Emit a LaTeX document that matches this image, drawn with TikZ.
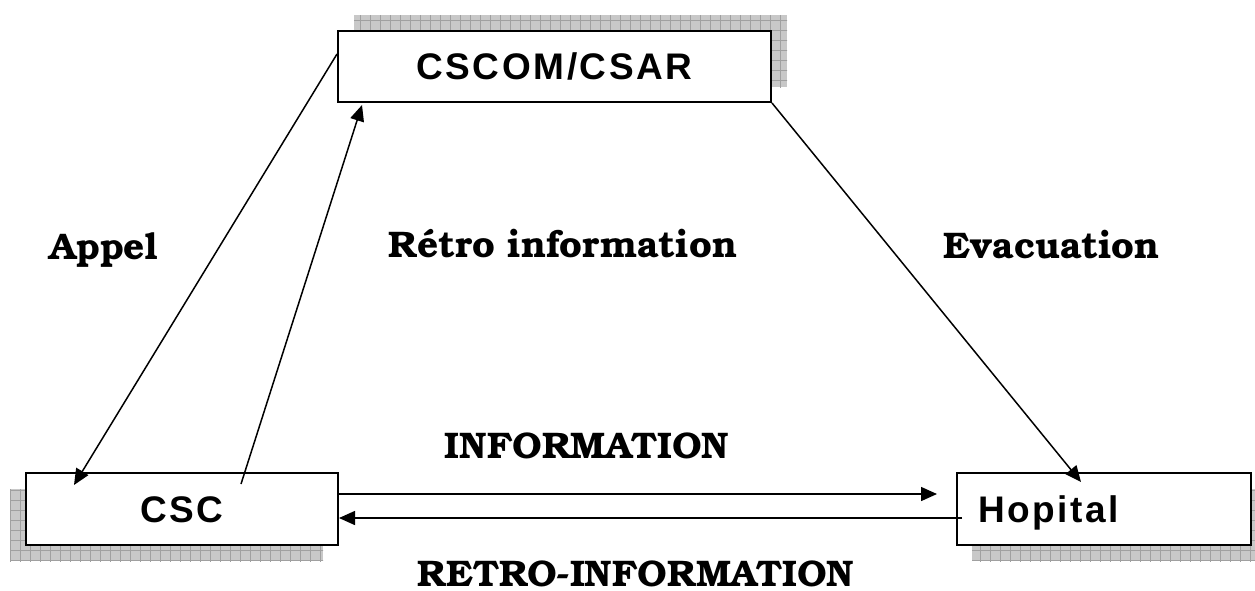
\documentclass[tikz,border=0pt]{standalone}
\usepackage{fontspec}
\newfontfamily\arialfont{Liberation Sans}[LetterSpace=7]
\newfontfamily\bkfont{TeX Gyre Bonum}
\usetikzlibrary{arrows.meta}
\definecolor{shadefill}{RGB}{200,200,200}
\definecolor{shadegrid}{RGB}{160,160,160}
\tikzset{
  box/.style={draw=black, line width=2pt, fill=white, inner ysep=0pt,
    text height=26.5pt, text depth=0pt, font=\arialfont\bfseries\fontsize{37}{37}\selectfont},
  lbl/.style={anchor=base, inner sep=0pt, font=\bkfont\bfseries\fontsize{37}{37}\selectfont},
  conn/.style={line width=1.5pt, -{Triangle[length=16pt,width=14pt]}},
  shadow/.style={fill=shadefill},
  shadowgrid/.style={draw=shadegrid, line width=0.6pt}
}
\begin{document}
\begin{tikzpicture}[x=1pt,y=-1pt]
\useasboundingbox (0,0) rectangle (1255,590);
% shadows
\fill[shadow] (354,15) rectangle (787,87);
\begin{scope}\clip (354,15) rectangle (787,87);
\draw[shadowgrid, step=10pt] (350,10) grid (790,90);\end{scope}
\fill[shadow] (10,489) rectangle (323,561);
\begin{scope}\clip (10,489) rectangle (323,561);
\draw[shadowgrid, step=10pt] (0,480) grid (330,570);\end{scope}
\fill[shadow] (972,489) rectangle (1255,561);
\begin{scope}\clip (972,489) rectangle (1255,561);
\draw[shadowgrid, step=10pt] (970,480) grid (1260,570);\end{scope}
% boxes
\node[box, minimum width=433pt, minimum height=71pt] (cscom) at (554.5,66.5) {CSCOM/CSAR\hspace{10pt}};
\node[box, minimum width=312pt, minimum height=72pt] (csc) at (182,509) {CSC\hspace{16pt}};
\node[box, minimum width=294pt, minimum height=72pt, inner xsep=21pt, text width=252pt, align=left] (hop) at (1104,509) {Hopital};
% connector endpoints
\coordinate (appS) at ([yshift=-24pt]cscom.north west);
\coordinate (appE) at ([xshift=49pt,yshift=-13pt]csc.north west);
\coordinate (retS) at ([xshift=216pt,yshift=-12pt]csc.north west);
\coordinate (retE) at ([xshift=25pt,yshift=-2pt]cscom.south west);
\coordinate (evaE) at ([xshift=125pt,yshift=-10pt]hop.north west);
\coordinate (infS) at ([yshift=15pt]csc.east);
\coordinate (infE) at ([xshift=-19pt,yshift=15pt]hop.west);
\coordinate (rinS) at ([xshift=6pt,yshift=-9pt]hop.west);
\coordinate (rinE) at ([yshift=-9pt]csc.east);
% connectors
\draw[conn] (appS) -- (appE);
\draw[conn] (retS) -- (retE);
\draw[conn] (cscom.south east) -- (evaE);
\draw[conn] (infS) -- (infE);
\draw[conn] (rinS) -- (rinE);
% labels
\node[lbl] (lappel) at (104,259) {Appel};
\node[lbl] (lretro) at (563,257) {Rétro information};
\node[lbl] (levac) at (1052,258) {Evacuation};
\node[lbl] (linfo) at (587,458) {INFORMATION};
\node[lbl] (lrinfo) at (636,586) {RETRO-INFORMATION};
\end{tikzpicture}
\end{document}
